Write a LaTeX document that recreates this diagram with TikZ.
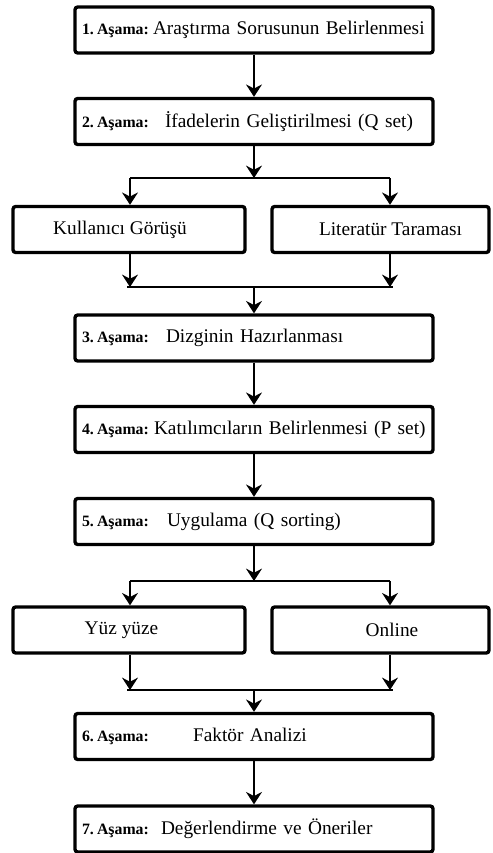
\documentclass[tikz,border=0pt]{standalone}
\usepackage{fontspec}
\setmainfont{Liberation Serif}
\usetikzlibrary{arrows.meta}

\newcommand{\asama}[3]{\makebox[#2][l]{\fontsize{9}{10}\selectfont\bfseries #1.\kern1.8pt Aşama:}#3}

\begin{document}
\begin{tikzpicture}[x=0.02cm, y=-0.02cm,
    every node/.style = {shape=rectangle, rounded corners=1.5pt,
      draw, line width=1.9pt, minimum height=0.92cm,
      font=\fontsize{11}{13}\selectfont},
    stage/.style = {text width=6.88cm, inner xsep=0.14cm, align=left},
    arr/.style = {line width=1.4pt, -{Stealth[length=7pt,width=9pt]}},
    bar/.style = {line width=1.4pt}]
    \useasboundingbox (0,0) rectangle (493,853);

    \node[stage] (s1) at (254,30) {\asama{1}{1.42cm}{Araştırma Sorusunun Belirlenmesi}};
    \node[stage] (s2) at (254,121.5) {\asama{2}{1.66cm}{İfadelerin Geliştirilmesi (Q set)}};
    \node[minimum width=4.64cm] (kul) at (129,229.5) {\hspace*{-0.36cm}Kullanıcı Görüşü};
    \node[minimum width=4.34cm] (lit) at (380.5,229.5) {Literatür Taraması\hspace*{-0.4cm}};
    \node[stage] (s3) at (254,338) {\asama{3}{1.68cm}{Dizginin Hazırlanması}};
    \node[stage] (s4) at (254,429.5) {\asama{4}{1.44cm}{Katılımcıların Belirlenmesi (P set)}};
    \node[stage] (s5) at (254,521.5) {\asama{5}{1.7cm}{Uygulama (Q sorting)}};
    \node[minimum width=4.64cm] (yuz) at (129,630) {\hspace*{-0.3cm}Yüz yüze};
    \node[minimum width=4.34cm] (onl) at (380.5,630) {Online\hspace*{-0.46cm}};
    \node[stage] (s6) at (254,736.5) {\asama{6}{2.22cm}{Faktör Analizi}};
    \node[stage] (s7) at (254,829) {\asama{7}{1.58cm}{Değerlendirme ve Öneriler}};

    % split and merge points
    \coordinate (d1) at (254,178);
    \coordinate (d1l) at (130,178);
    \coordinate (d1r) at (390,178);
    \coordinate (m1) at (254,287);
    \coordinate (m1l) at (127,287);
    \coordinate (m1r) at (393,287);
    \coordinate (d2) at (254,581);
    \coordinate (d2l) at (130,581);
    \coordinate (d2r) at (390,581);
    \coordinate (m2) at (254,690);
    \coordinate (m2l) at (127,690);
    \coordinate (m2r) at (393,690);

    \foreach \a/\b in {s1/s2, s3/s4, s4/s5, s6/s7}
      \draw[arr] (\a) -- (\b);

    \draw[arr] (s2) -- (d1);
    \draw[bar] (d1l) -- (d1r);
    \draw[arr] (d1l) -- (d1l |- kul.north);
    \draw[arr] (d1r) -- (d1r |- lit.north);
    \draw[arr] (kul.south -| d1l) -- (d1l |- m1);
    \draw[arr] (lit.south -| d1r) -- (d1r |- m1);
    \draw[bar] (m1l) -- (m1r);
    \draw[arr] (m1) -- (s3);

    \draw[arr] (s5) -- (d2);
    \draw[bar] (d2l) -- (d2r);
    \draw[arr] (d2l) -- (d2l |- yuz.north);
    \draw[arr] (d2r) -- (d2r |- onl.north);
    \draw[arr] (yuz.south -| d2l) -- (d2l |- m2);
    \draw[arr] (onl.south -| d2r) -- (d2r |- m2);
    \draw[bar] (m2l) -- (m2r);
    \draw[arr] (m2) -- (s6);
  \end{tikzpicture}
\end{document}
